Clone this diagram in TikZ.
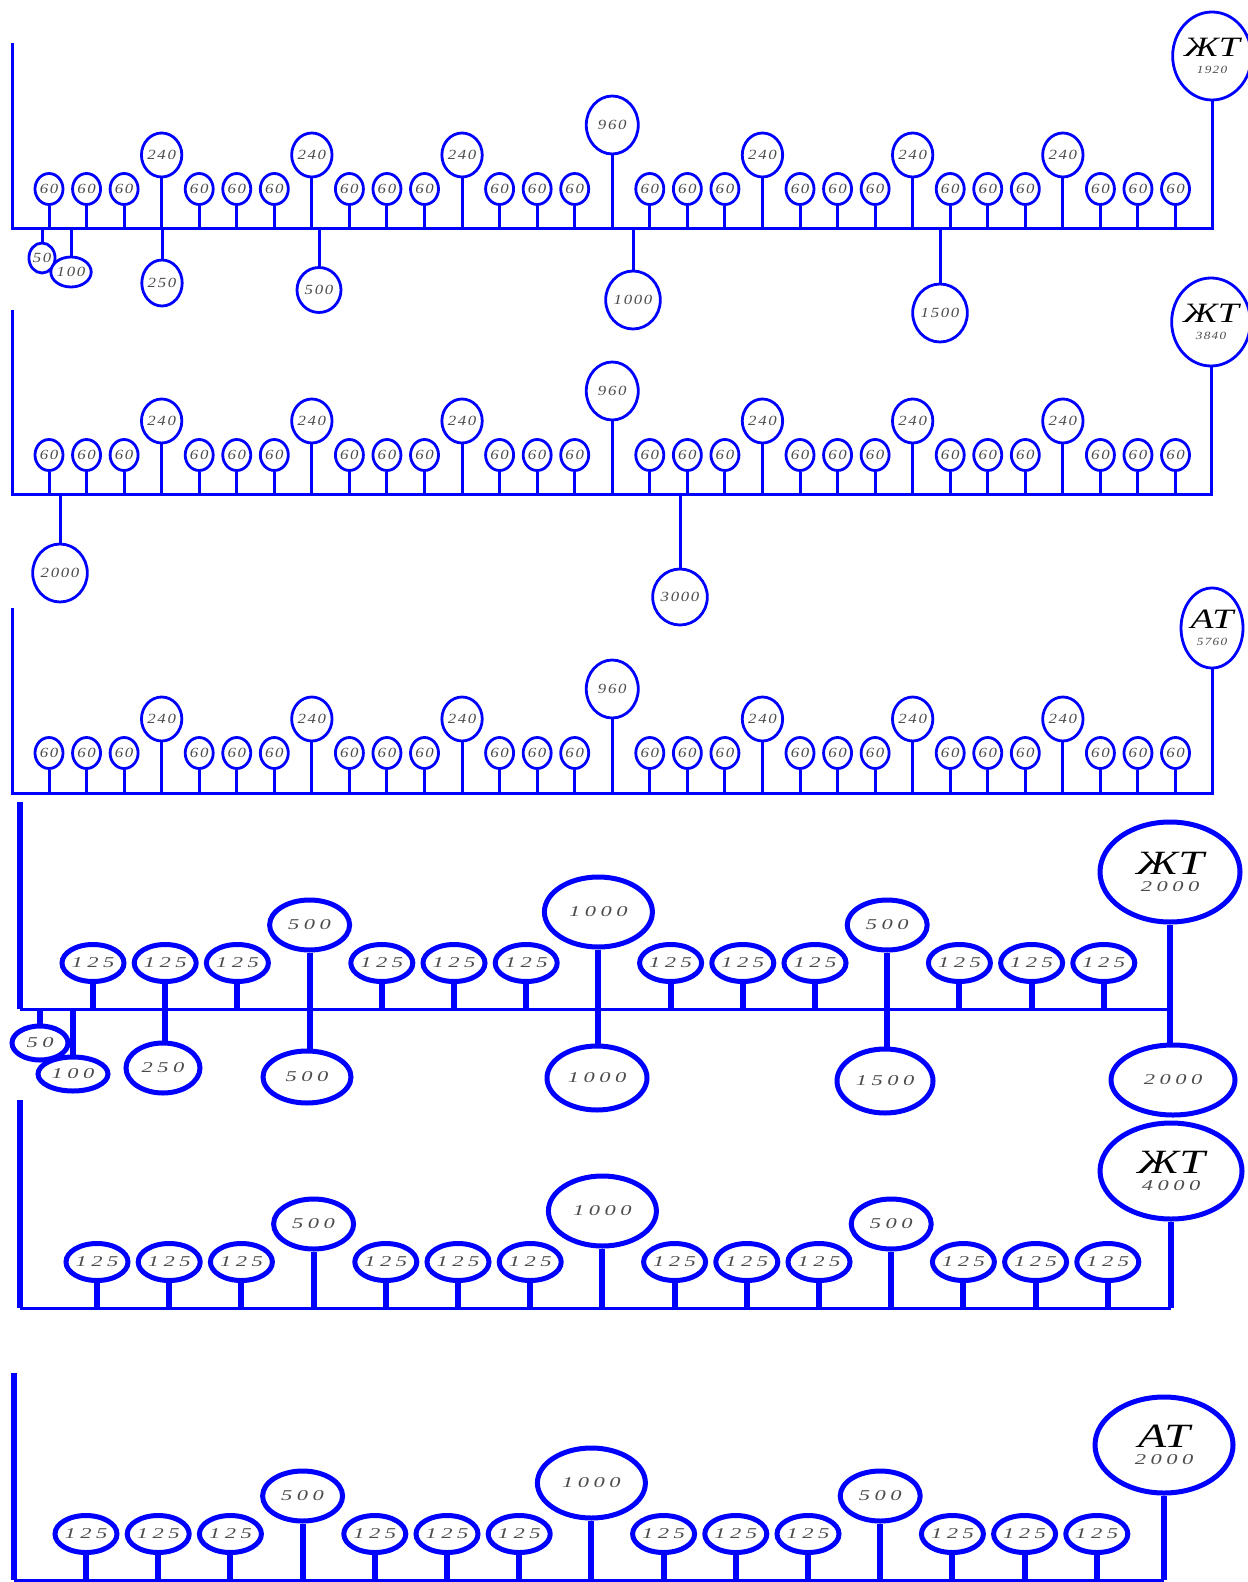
\documentclass[tikz,border=0pt]{standalone}
\usepackage{fontspec}
\setmainfont{Liberation Serif}
\newfontfamily\numfont[FakeStretch=1.2,LetterSpace=12]{Liberation Serif}
\newfontfamily\widefont[FakeStretch=1.5,LetterSpace=30]{Liberation Serif}
\newfontfamily\headfont[FakeStretch=1.35]{Liberation Serif}
\usetikzlibrary{shapes.geometric}

\tikzset{
  wire/.style={blue, line width=1.5pt},
  fat wire/.style={blue, line width=3pt},
  bulb/.style={ellipse, draw=blue, line width=1.4pt, fill=white, inner sep=0pt,
    text=black!70, font=\numfont\itshape\fontsize{7}{7}\selectfont},
  big bulb/.style={ellipse, draw=blue, line width=2.5pt, fill=white, inner sep=0pt,
    text=black!70, font=\widefont\itshape\fontsize{7.5}{7.5}\selectfont},
  head/.style={align=center, text=black},
  sz/.style 2 args={minimum width=#1pt, minimum height=#2pt},
}

\begin{document}
\begin{tikzpicture}[x=0.5pt, y=-0.5pt]
  \useasboundingbox (0,0) rectangle (1247,1582);
  % left ends of the three upper buses
  \coordinate (a-top) at (12,43);  \coordinate (a-bus) at (12,229);
  \coordinate (b-top) at (12,310); \coordinate (b-bus) at (12,495);
  \coordinate (c-top) at (12,608); \coordinate (c-bus) at (12,793);
  % draw the bulbs above the three upper buses
  \foreach \s/\dy in {a/0,b/266,c/564}{
    \foreach \i in {0,...,30}{
      \pgfmathsetmacro\x{49+37.55*\i}
      \pgfmathtruncatemacro\m{mod(\i,4)}
      \ifnum\i=15
        \node[bulb, sz={26}{29}] (\s\i) at (\x,125+\dy) {960};
      \else\ifnum\m=3
        \node[bulb, sz={19}{22}] (\s\i) at (\x,155+\dy) {240};
      \else
        \node[bulb, sz={14}{15.5}] (\s\i) at (\x,189+\dy) {60};
      \fi\fi
      \draw[wire] (\s\i.south) -- (\s\i.south |- \s-bus);
    }
  }
  % draw the head bulbs
  \node[bulb, sz={34}{44}, head] (aT) at (1212,56)
    {{\headfont\itshape\fontsize{14}{14}\selectfont ЖТ}\\[1.5pt]{\color{black!70}\fontsize{5.5}{5.5}\selectfont 1920}};
  \node[bulb, sz={33}{44}, head] (bT) at (1211,322)
    {{\headfont\itshape\fontsize{14}{14}\selectfont ЖТ}\\[1.5pt]{\color{black!70}\fontsize{5.5}{5.5}\selectfont 3840}};
  \node[bulb, sz={31}{40}, head] (cT) at (1212,628)
    {{\headfont\itshape\fontsize{14}{14}\selectfont АТ}\\[1.5pt]{\color{black!70}\fontsize{5.5}{5.5}\selectfont 5760}};
  % draw the buses
  \foreach \s in {a,b,c}
    \draw[wire] (\s-top) -- (\s-bus) -- (\s T.south |- \s-bus) -- (\s T.south);
  % bulbs below the first bus
  \node[bulb, sz={13}{15}] (a50) at (42,258) {50};
  \node[bulb, sz={17}{15}] (a100) at (71,272) {100};
  \node[bulb, sz={20}{23}] (a250) at (162,283) {250};
  \node[bulb, sz={22}{22.5}] (a500) at (319,290) {500};
  \node[bulb, sz={26}{29}] (a1000) at (633,300) {1000};
  \node[bulb, sz={26}{29}] (a1500) at (940,313) {1500};
  \foreach \n in {50,100,250,500,1000,1500}
    \draw[wire] (a\n.north) -- (a\n.north |- a-bus);
  % bulbs below the second bus
  \node[bulb, sz={26}{29}] (b2000) at (60,573) {2000};
  \node[bulb, sz={25}{28}] (b3000) at (680,597) {3000};
  \foreach \n in {2000,3000}
    \draw[wire] (b\n.north) -- (b\n.north |- b-bus);
%
  % left ends of the three lower buses
  \coordinate (d-top) at (20,802);  \coordinate (d-bus) at (20,1009);
  \coordinate (e-top) at (20,1100); \coordinate (e-bus) at (20,1308);
  \coordinate (f-top) at (14,1373); \coordinate (f-bus) at (14,1580);
  % draw the bulbs above the three lower buses
  \foreach \s/\xo/\yb in {d/93/1009,e/97/1308,f/86/1580}{
    \foreach \i in {0,...,14}{
      \pgfmathsetmacro\x{\xo+72.2*\i}
      \ifnum\i=7
        \node[big bulb, sz={54}{35}] (\s\i) at (\x,\yb-97) {1000};
      \else\ifnum\i=3
        \node[big bulb, sz={40}{25}] (\s\i) at (\x,\yb-84) {500};
      \else\ifnum\i=11
        \node[big bulb, sz={40}{25}] (\s\i) at (\x,\yb-84) {500};
      \else
        \node[big bulb, sz={31}{18.5}] (\s\i) at (\x,\yb-46) {125};
      \fi\fi\fi
      \draw[fat wire] (\s\i.south) -- (\s\i.south |- \s-bus);
    }
  }
  % draw the head bulbs
  \node[big bulb, sz={70}{50}, head] (dT) at (1170,872)
    {{\headfont\itshape\fontsize{17}{17}\selectfont ЖТ}\\[1pt]{\color{black!70}2000}};
  \node[big bulb, sz={71}{48}, head] (eT) at (1171,1171)
    {{\headfont\itshape\fontsize{17}{17}\selectfont ЖТ}\\[1pt]{\color{black!70}4000}};
  \node[big bulb, sz={69}{48}, head] (fT) at (1164,1445)
    {{\headfont\itshape\fontsize{17}{17}\selectfont АТ}\\[1pt]{\color{black!70}2000}};
  % draw the buses
  \foreach \s in {d,e,f}{
    \draw[fat wire] (\s-top) -- (\s-bus);
    \draw[wire] (\s-bus) -- (\s T.south |- \s-bus);
  }
  \draw[fat wire] (eT.south) -- (eT.south |- e-bus);
  \draw[fat wire] (fT.south) -- (fT.south |- f-bus);
  % bulbs below the fourth bus
  \node[big bulb, sz={28}{17}] (d50) at (40,1043) {50};
  \node[big bulb, sz={35}{17}] (d100) at (73,1074) {100};
  \node[big bulb, sz={37}{25}] (d250) at (163,1068) {250};
  \node[big bulb, sz={44}{26}] (d500) at (307,1077) {500};
  \node[big bulb, sz={50}{32}] (d1000) at (597,1078) {1000};
  \node[big bulb, sz={48}{32}] (d1500) at (885,1081) {1500};
  \node[big bulb, sz={62}{35}] (d2000) at (1173,1080) {2000};
  \draw[fat wire] (d50.north) -- (d50.north |- d-bus);
  \draw[fat wire] (d100.north) -- (d100.north |- d-bus);
  \draw[fat wire] (d1.south) -- (d1.south |- d250.north);
  \draw[fat wire] (d3.south) -- (d3.south |- d500.north);
  \draw[fat wire] (d7.south) -- (d7.south |- d1000.north);
  \draw[fat wire] (d11.south) -- (d11.south |- d1500.north);
  \draw[fat wire] (dT.south) -- (dT.south |- d2000.north);
\end{tikzpicture}
\end{document}
